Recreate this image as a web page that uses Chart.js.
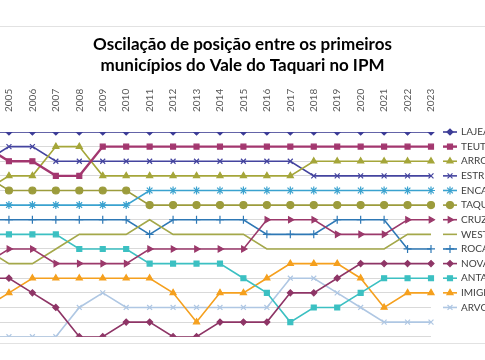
<!DOCTYPE html>
<html>
<head>
<meta charset="utf-8">
<script src="https://cdn.jsdelivr.net/npm/chart.js@4/dist/chart.umd.min.js"></script>
<style>
html,body{margin:0;padding:0;width:485px;height:360px;overflow:hidden;background:#fff;}
#frame{position:absolute;left:0;top:26px;width:485px;height:318px;border-top:1px solid #e2e2e2;border-bottom:1px solid #e2e2e2;box-sizing:border-box;}
#wrap{position:absolute;left:-25px;top:0;width:620px;height:360px;}
</style>
</head>
<body>
<div id="frame"></div>
<div id="wrap"><canvas id="c" width="620" height="360"></canvas></div>
<script>
const titleLines = ['Oscilação de posição entre os primeiros', 'municípios do Vale do Taquari no IPM'];
const years = ['2004','2005','2006','2007','2008','2009','2010','2011','2012','2013','2014','2015','2016','2017','2018','2019','2020','2021','2022','2023'];
const municipios = ['LAJEADO','TEUTÔNIA','ARROIO DO MEIO','ESTRELA','ENCANTADO','TAQUARI','CRUZEIRO DO SUL','WESTFÁLIA','ROCA SALES','NOVA BRÉSCIA','ANTA GORDA','IMIGRANTE','ARVOREZINHA'];
const lajeado       = [1,1,1,1,1,1,1,1,1,1,1,1,1,1,1,1,1,1,1,1];
const teutonia      = [2,3,3,4,4,2,2,2,2,2,2,2,2,2,2,2,2,2,2,2];
const arroioDoMeio  = [5,4,4,2,2,4,4,4,4,4,4,4,4,4,3,3,3,3,3,3];
const estrela       = [3,2,2,3,3,3,3,3,3,3,3,3,3,3,4,4,4,4,4,4];
const encantado     = [6,6,6,6,6,6,6,5,5,5,5,5,5,5,5,5,5,5,5,5];
const taquari       = [4,5,5,5,5,5,5,6,6,6,6,6,6,6,6,6,6,6,6,6];
const cruzeiroDoSul = [10,9,9,10,10,10,10,9,9,9,9,9,7,7,7,8,8,8,7,7];
const westfalia     = [9,10,10,9,8,8,8,7,8,8,8,8,9,9,9,9,9,9,8,8];
const rocaSales     = [7,7,7,7,7,7,7,8,7,7,7,7,8,8,8,7,7,7,9,9];
const novaBrescia   = [11,11,12,13,15,15,14,14,15,15,14,14,14,12,12,11,10,10,10,10];
const antaGorda     = [8,8,8,8,9,9,9,10,10,10,10,11,12,14,13,13,12,11,11,11];
const imigrante     = [13,12,11,11,11,11,11,11,12,14,12,12,11,10,10,10,11,13,12,12];
const arvorezinha   = [15,15,15,15,13,12,13,13,13,13,13,13,13,11,11,12,13,14,14,14];

const seriesValues = [lajeado, teutonia, arroioDoMeio, estrela, encantado, taquari, cruzeiroDoSul, westfalia, rocaSales, novaBrescia, antaGorda, imigrante, arvorezinha];
const styles = [
  {c:'#3D3D97', p:'rectRot', r:3, w:1.6},
  {c:'#A3376F', p:'rect', r:3.5, w:2.4},
  {c:'#A5A63A', p:'triangle', r:3.5, w:1.6},
  {c:'#44449F', p:'crossRot', r:3.5, w:1.6},
  {c:'#3AA2CF', p:'star', r:4, w:1.6},
  {c:'#9C9C3C', p:'circle', r:3.5, w:1.6},
  {c:'#9B396B', p:'triangle', r:3.5, w:1.6, rot:90},
  {c:'#A4A84A', p:'circle', r:0, w:1.6},
  {c:'#2E78B5', p:'cross', r:4, w:1.6},
  {c:'#8E3566', p:'rectRot', r:3, w:1.6},
  {c:'#3CC0C2', p:'rect', r:3.5, w:1.6},
  {c:'#F5A01E', p:'triangle', r:3.5, w:1.6},
  {c:'#AFC7E3', p:'crossRot', r:3.5, w:1.6}
];

const datasets = municipios.map((name, i) => ({
  label: name,
  data: seriesValues[i],
  borderColor: styles[i].c,
  backgroundColor: styles[i].c,
  borderWidth: styles[i].w,
  pointStyle: styles[i].p,
  pointRadius: styles[i].r,
  pointHoverRadius: styles[i].r,
  pointRotation: styles[i].rot || 0,
  pointBackgroundColor: styles[i].c,
  pointBorderColor: styles[i].c,
  pointBorderWidth: 1.2,
  tension: 0,
  fill: false
}));

const titleCenter = {
  id: 'titleCenter',
  afterLayout(chart) {
    const t = chart.titleBlock;
    if (t) { t.left = 25; t.right = 510; t.width = 485; }
  }
};

const sideLegend = {
  id: 'sideLegend',
  afterDraw(chart) {
    const {ctx, chartArea, scales} = chart;
    const y = scales.y;
    ctx.save();
    chart.data.datasets.forEach((ds, i) => {
      const yy = y.getPixelForValue(i + 1);
      const x0 = chartArea.right + 12, x1 = x0 + 14;
      ctx.strokeStyle = ds.borderColor;
      ctx.lineWidth = ds.borderWidth;
      ctx.beginPath(); ctx.moveTo(x0, yy); ctx.lineTo(x1, yy); ctx.stroke();
      if (ds.pointRadius > 0) {
        ctx.fillStyle = ds.pointBackgroundColor;
        ctx.strokeStyle = ds.pointBorderColor;
        ctx.lineWidth = ds.pointBorderWidth;
        Chart.helpers.drawPoint(ctx, {pointStyle: ds.pointStyle, rotation: ds.pointRotation, radius: ds.pointRadius, borderWidth: ds.pointBorderWidth}, (x0 + x1) / 2, yy);
      }
      ctx.fillStyle = '#404040';
      ctx.font = '10px Lato';
      ctx.textBaseline = 'middle';
      ctx.textAlign = 'left';
      ctx.fillText(ds.label, x1 + 4, yy);
    });
    ctx.restore();
  }
};

new Chart(document.getElementById('c'), {
  type: 'line',
  data: { labels: years, datasets },
  options: {
    responsive: false,
    animation: false,
    layout: { padding: { left: 10.5, right: 164, top: 0, bottom: 23.3 } },
    plugins: {
      legend: { display: false },
      tooltip: { enabled: false },
      title: {
        display: true,
        text: titleLines,
        color: '#000000',
        font: { family: 'Lato', size: 17, weight: 'bold', lineHeight: 1.2 },
        padding: { top: 34.8, bottom: 12.4 }
      }
    },
    scales: {
      x: {
        position: 'top',
        offset: false,
        afterFit(s) { s.height = 44; s.paddingLeft = 0; s.paddingRight = 0; s.paddingTop = 0; s.paddingBottom = 0; },
        grid: { display: false, drawTicks: false },
        border: { display: false },
        ticks: { autoSkip: false, minRotation: 90, maxRotation: 90, padding: 20, labelOffset: 12, color: '#595959', font: { family: 'Lato', size: 10 } }
      },
      y: {
        reverse: true,
        min: 1,
        max: 15,
        afterFit(s) { s.width = 0; s.paddingTop = 0; s.paddingBottom = 0; },
        grid: { color: '#D9D9D9', lineWidth: 1, drawTicks: false },
        border: { display: false },
        ticks: { display: false, stepSize: 1 }
      }
    }
  },
  plugins: [titleCenter, sideLegend]
});
</script>
</body>
</html>
